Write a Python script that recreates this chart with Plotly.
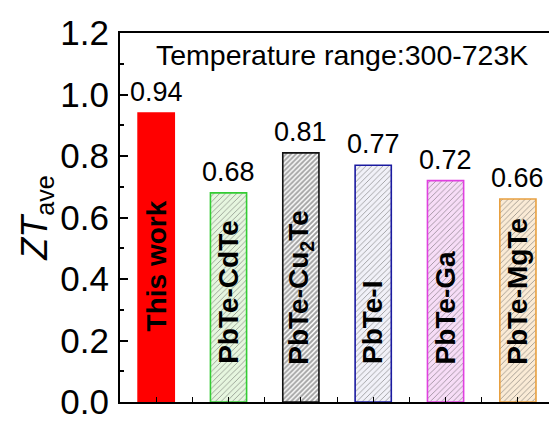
import plotly.graph_objects as go

categories = ["This work", "PbTe-CdTe", "PbTe-Cu<sub>2</sub>Te", "PbTe-I", "PbTe-Ga", "PbTe-MgTe"]
zt_ave = [0.94, 0.68, 0.81, 0.77, 0.72, 0.66]
value_labels = ["0.94", "0.68", "0.81", "0.77", "0.72", "0.66"]
yticks = [0.0, 0.2, 0.4, 0.6, 0.8, 1.0, 1.2]
label_base = [0.222, 0.116, 0.116, 0.116, 0.116, 0.116]

fill_colors = ["#FF0000", "#E6F6DF", "#FFFFFF", "#F1F1F8", "#F7DDF7", "#FAEBD6"]
hatch_colors = ["#FF0000", "#7FCC6A", "#000000", "#9A9AB8", "#CC66CC", "#D9A55A"]
border_colors = ["#FF0000", "#33CC33", "#111111", "#1A1AA0", "#E040E0", "#E8A040"]
hatch_shapes = ["", "/", "/", "/", "/", "/"]
hatch_sizes = [6, 4, 3.5, 4, 4, 4]
hatch_solid = [0.3, 0.22, 0.55, 0.22, 0.22, 0.22]

xs = list(range(len(categories)))
fig = go.Figure()
fig.add_trace(go.Bar(
    x=xs, y=zt_ave, width=0.5,
    marker=dict(
        color=fill_colors,
        line=dict(color=border_colors, width=1.6),
        pattern=dict(shape=hatch_shapes, fgcolor=hatch_colors, size=hatch_sizes,
                     solidity=hatch_solid, fillmode="overlay"),
    ),
    showlegend=False,
))

for i, (v, t) in enumerate(zip(zt_ave, value_labels)):
    fig.add_annotation(x=xs[i], y=v, text=t, showarrow=False, yanchor="bottom",
                       yshift=4, font=dict(size=27, color="black"))
for i, c in enumerate(categories):
    fig.add_annotation(x=xs[i], y=label_base[i], text="<b>" + c + "</b>", showarrow=False,
                       textangle=-90, yanchor="bottom", xanchor="center",
                       font=dict(size=28, color="black"))

fig.add_annotation(x=0.5, xref="paper", y=1.127, text="Temperature range:300-723K",
                   showarrow=False, xanchor="center", xshift=7, font=dict(size=28.5, color="black"))

fig.update_layout(
    width=549, height=421,
    margin=dict(l=120, r=0, t=33, b=15),
    paper_bgcolor="white", plot_bgcolor="white",
    font=dict(family="Liberation Sans, Arial, sans-serif", color="black"),
    bargap=0.5,
    xaxis=dict(range=[-0.5, 5.43], showline=True, linecolor="black", linewidth=2,
               mirror=True, tickvals=xs, showticklabels=False, ticks="inside",
               ticklen=5, tickcolor="black", showgrid=False, zeroline=False,
               minor=dict(tick0=0.5, dtick=1, ticks="inside", ticklen=5, tickcolor="black")),
    yaxis=dict(range=[0, 1.2], showline=True, linecolor="black", linewidth=2,
               tickvals=yticks, ticktext=[f"{v:.1f}" for v in yticks],
               ticks="inside", ticklen=8, tickcolor="black", tickwidth=1.5,
               tickfont=dict(size=35), showgrid=False, zeroline=False,
               ticklabeloverflow="allow", ticklabelstandoff=2,
               minor=dict(dtick=0.1, ticks="inside", ticklen=4, tickcolor="black"),
               title=dict(text="<i>ZT</i><sub>ave</sub>", font=dict(size=36), standoff=2)),
)

fig.write_html("out.html")
